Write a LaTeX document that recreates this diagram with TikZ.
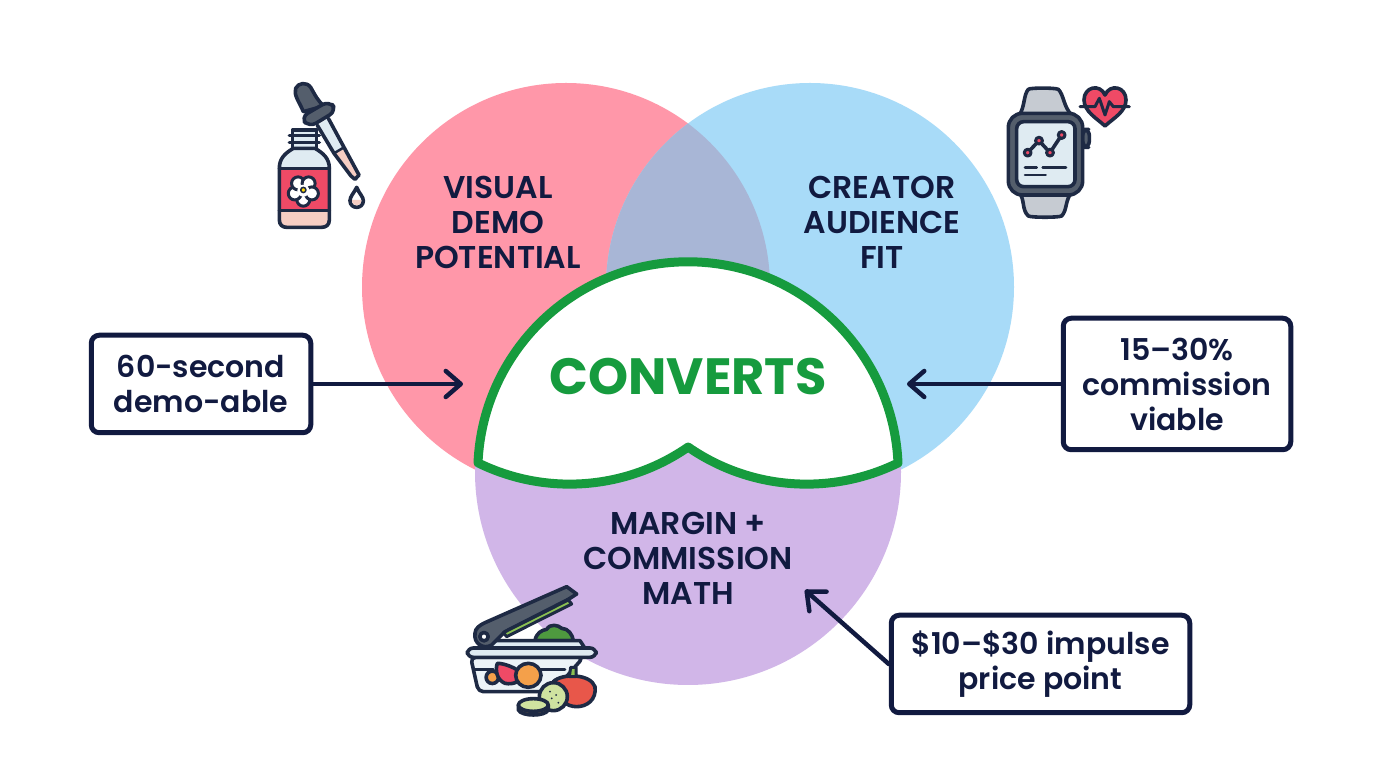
\documentclass[tikz,border=0pt]{standalone}
\usepackage{fontspec}
\setmainfont{Poppins SemiBold}
\newfontfamily\labelfont{Poppins SemiBold}
\newfontfamily\headfont{Poppins Bold}
\usetikzlibrary{arrows.meta,calc}
\definecolor{ink}{HTML}{111A40}
\definecolor{iconline}{HTML}{1E2A44}
\definecolor{rosefill}{HTML}{FF97A9}
\definecolor{skyfill}{HTML}{A8DBF8}
\definecolor{mixfill}{HTML}{A8B6D6}
\definecolor{lilacfill}{HTML}{D1B6E8}
\definecolor{leaf}{HTML}{169B3E}
\definecolor{slate}{HTML}{545E6C}
\definecolor{steel}{HTML}{C6CBD2}
\definecolor{glass}{HTML}{DFEBF2}
\definecolor{blush}{HTML}{F6CDC3}
\definecolor{crimson}{HTML}{EF4A66}
\definecolor{peel}{HTML}{F4A04A}
\definecolor{tomato}{HTML}{E8574A}
\definecolor{cuke}{HTML}{CFE3A0}
\definecolor{rind}{HTML}{8A6E3C}
\definecolor{lettuce}{HTML}{4E9A3F}
\definecolor{bladegreen}{HTML}{8CC152}
\tikzset{
  x=1pt,y=1pt,
  callout/.style={draw=ink,line width=5pt,rounded corners=8pt,fill=white,inner sep=0pt,align=center,
    font=\fontsize{30}{35}\selectfont,text=ink},
  setlabel/.style={align=center,text=ink,font=\labelfont\fontsize{31.5}{35}\selectfont},
  pointer/.style={draw=ink,line width=4.5pt,line cap=round,line join=round,
    -{Straight Barb[length=15pt,width=26pt,line width=4.5pt,round]}},
  icon/.style={draw=iconline,line width=3.6pt,line join=round,line cap=round},
  zoomed/.style={x=0.33333pt,y=-0.33333pt}
}
\begin{document}
\begin{tikzpicture}
\useasboundingbox (0,0) rectangle (1376,768);
\fill[white] (0,0) rectangle (1376,768);

% three overlapping sets
\fill[rosefill] (566,481) circle[radius=204pt];
\fill[skyfill] (810,481) circle[radius=204pt];
\begin{scope}
  \clip (566,481) circle[radius=204pt];
  \fill[mixfill] (810,481) circle[radius=204pt];
\end{scope}
\fill[lilacfill] (688,296) circle[radius=213pt];

% central region where all three sets meet
\draw[leaf,line width=9pt,line join=round,fill=white]
  (478,305) arc[start angle=177.55,end angle=2.45,radius=210.2pt]
  arc[start angle=-63.95,end angle=-124.74,radius=208pt]
  arc[start angle=-55.26,end angle=-116.05,radius=208pt]
  -- cycle;

\node[text=leaf,font=\headfont\fontsize{51}{54}\selectfont] (converts) at (688,391) {CONVERTS};
\node[setlabel] (visual) at (498,546) {VISUAL\\DEMO\\POTENTIAL};
\node[setlabel] (creator) at (882,546) {CREATOR\\AUDIENCE\\FIT};
\node[setlabel] (margin) at (688,210) {MARGIN +\\COMMISSION\\MATH};

% callouts
\node[callout,minimum width=219.5pt,minimum height=97.5pt] (demo) at (201,384) {60-second\\demo-able};
\node[callout,minimum width=227.5pt,minimum height=131.5pt] (comm) at (1177,384) {15--30\%\\commission\\viable};
\node[callout,minimum width=298.5pt,minimum height=97.5pt] (price) at (1040.5,104) {\$10--\$30 impulse\\price point};
\coordinate (demotip) at (463,384);
\coordinate (commtip) at (907,384);
\coordinate (pricetip) at (805,178);
\draw[pointer] (demo.east) -- (demotip);
\draw[pointer] (comm.west) -- (commtip);
\draw[pointer] (price.west) -- (pricetip);

% serum bottle with dropper
\begin{scope}[shift={(260pt,698pt)},zoomed]
  \fill[glass] (100,235) .. controls (75,250) and (58,265) .. (58,295) -- (208,295) .. controls (208,265) and (190,250) .. (165,235) -- cycle;
  \fill[crimson] (58,295) rectangle (208,422);
  \fill[blush] (58,422) -- (208,422) -- (208,450) .. controls (208,465) and (198,472) .. (185,472) -- (80,472) .. controls (68,472) and (58,465) .. (58,450) -- cycle;
  \fill[glass] (98,180) rectangle (170,235);
  \draw[icon] (98,235) -- (98,180) -- (170,180) -- (170,235);
  \draw[icon] (88,197) -- (178,197) (88,217) -- (178,217);
  \draw[icon] (100,235) .. controls (75,250) and (58,265) .. (58,295) -- (58,450) .. controls (58,465) and (68,472) .. (80,472) -- (185,472) .. controls (198,472) and (208,465) .. (208,450) -- (208,295) .. controls (208,265) and (190,250) .. (165,235) -- cycle;
  \draw[icon] (58,295) -- (208,295) (58,422) -- (208,422);
  \foreach \a in {90,162,234,306,18}
    \draw[icon,line width=3pt,fill=white] (130,362) ++(\a:27) circle[radius=6.5pt];
  \fill[white] (130,362) circle[radius=6pt];
  \draw[icon,line width=1.5pt,fill=yellow!75!orange] (130,360) circle[radius=2.6pt];
  % dropper
  \fill[glass] (172,166) -- (205,145) -- (252,232) -- (222,250) -- cycle;
  \fill[blush] (222,250) -- (252,232) -- (297,315) -- (285,328) -- (273,318) -- cycle;
  \draw[icon] (172,166) -- (222,250) -- (273,318) -- (285,328) -- (297,315) -- (252,232) -- (205,145);
  \draw[icon,line width=2.5pt] (222,250) -- (252,232);
  \draw[icon,fill=slate] (130,125) .. controls (118,95) and (100,75) .. (107,55) .. controls (115,38) and (140,35) .. (152,52) .. controls (165,75) and (175,95) .. (192,108) -- cycle;
  \draw[icon,fill=slate,rounded corners=8pt] (122,142) -- (208,92) -- (230,122) -- (148,172) -- cycle;
  % falling drop
  \draw[icon,fill=white] (290,352) .. controls (280,372) and (270,380) .. (270,392) .. controls (270,405) and (280,412) .. (290,412) .. controls (300,412) and (310,405) .. (310,392) .. controls (310,380) and (298,372) .. (290,352) -- cycle;
  \fill[blush] (276,390) .. controls (276,402) and (283,406) .. (290,406) .. controls (297,406) and (304,402) .. (304,390) -- cycle;
\end{scope}

% smartwatch with heart-rate badge
\begin{scope}[shift={(990pt,698pt)},zoomed]
  \draw[icon,fill=steel] (88,135) .. controls (105,110) and (100,75) .. (115,58) .. controls (120,53) and (195,53) .. (205,58) .. controls (222,75) and (220,110) .. (245,135) -- cycle;
  \draw[icon,fill=steel] (88,368) .. controls (105,390) and (95,420) .. (115,438) .. controls (125,443) and (205,443) .. (215,438) .. controls (232,420) and (225,390) .. (245,368) -- cycle;
  \draw[icon,fill=slate,rounded corners=6pt] (278,178) -- (298,178) -- (298,232) -- (278,232) -- cycle;
  \draw[icon,fill=slate,rounded corners=14pt] (55,130) rectangle (278,375);
  \draw[icon,fill=glass,rounded corners=7pt] (80,155) rectangle (255,350);
  \draw[icon] (113,248) -- (147,212) -- (180,248) -- (215,195);
  \foreach \p in {(113,248),(147,212),(180,248),(215,195)}
    \draw[icon,line width=3pt,fill=crimson] \p circle[radius=3.4pt];
  \draw[icon,line width=2.6pt] (105,293) -- (140,293) (158,293) -- (228,293) (105,315) -- (167,315);
  \draw[icon,fill=crimson] (345,168) .. controls (320,145) and (283,125) .. (282,90) .. controls (282,50) and (330,40) .. (345,75) .. controls (360,40) and (408,50) .. (408,90) .. controls (408,125) and (370,145) .. (345,168) -- cycle;
  \draw[icon,line width=3pt] (270,110) -- (315,110) -- (328,85) -- (345,135) -- (358,95) -- (370,110) -- (418,110);
\end{scope}

% food chopper with vegetables
\begin{scope}[shift={(450pt,198pt)},zoomed]
  \draw[icon,fill=lettuce] (255,212) .. controls (258,190) and (275,180) .. (290,178) .. controls (300,160) and (325,165) .. (335,175) .. controls (355,175) and (368,195) .. (370,212) -- cycle;
  \draw[icon,fill=glass] (100,235) -- (125,212) -- (390,212) -- (405,235) -- cycle;
  \draw[icon,fill=glass!60!white,rounded corners=5pt] (62,262) -- (85,365) -- (310,365) -- (400,262) -- cycle;
  \draw[icon,line width=2.5pt] (75,298) -- (130,298) (265,298) -- (345,298);
  \draw[icon,fill=peel] (127,322) circle[radius=6.2pt];
  \draw[icon,fill=crimson] (142,280) .. controls (165,280) and (200,295) .. (215,310) .. controls (215,335) and (190,345) .. (165,340) .. controls (140,330) and (135,300) .. (142,280) -- cycle;
  \draw[icon,fill=peel] (235,316) ellipse[x radius=38,y radius=36];
  \draw[icon,fill=glass,rounded corners=6pt] (52,234) rectangle (438,262);
  \draw[icon,fill=tomato] (310,335) .. controls (335,310) and (420,310) .. (435,350) .. controls (440,390) and (410,410) .. (380,410) .. controls (350,410) and (320,390) .. (310,335) -- cycle;
  \draw[icon,line width=3pt,fill=bladegreen] (358,320) -- (362,292) -- (378,292) -- (378,320) -- cycle;
  \draw[icon,fill=cuke] (310,380) circle[radius=14pt];
  \fill[iconline] (300,365) circle[radius=1pt] (318,375) circle[radius=1pt] (305,385) circle[radius=1pt] (325,398) circle[radius=1pt];
  \draw[icon,fill=rind] (205,405) -- (205,420) .. controls (215,440) and (285,440) .. (295,420) -- (295,405) -- cycle;
  \draw[icon,fill=cuke] (250,405) ellipse[x radius=45,y radius=19];
  % hinged blade
  \draw[icon,fill=slate] (75,190) .. controls (75,175) and (90,165) .. (105,158) -- (350,50) -- (380,72) -- (355,88) -- (165,185) -- (125,225) .. controls (100,240) and (70,220) .. (75,190) -- cycle;
  \draw[icon,fill=white] (102,200) circle[radius=4.2pt];
  \draw[icon,line width=3pt,fill=bladegreen] (160,188) -- (355,90) -- (365,102) -- (170,200) -- cycle;
\end{scope}
\end{tikzpicture}
\end{document}
